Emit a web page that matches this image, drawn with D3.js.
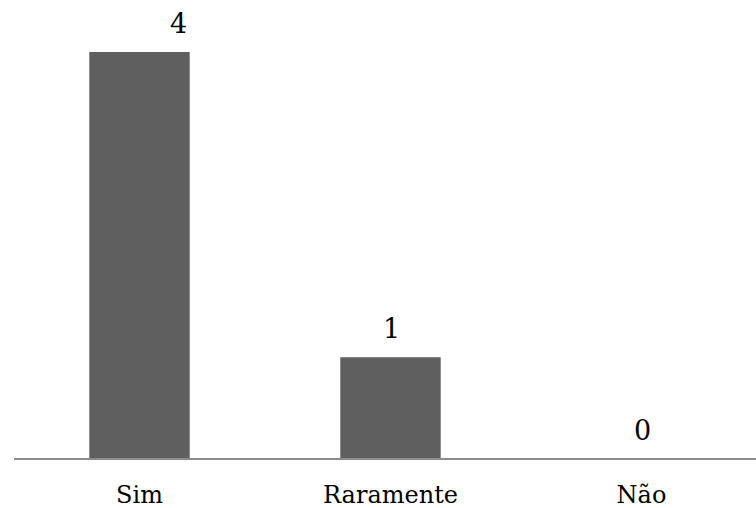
<!DOCTYPE html>
<html>
<head>
<meta charset="utf-8">
<script src="https://cdn.jsdelivr.net/npm/d3@7"></script>
<style>
  html, body { margin: 0; padding: 0; background: #fff; }
  svg { display: block; }
  text { font-family: "DejaVu Serif", serif; fill: #000; }
</style>
</head>
<body>
<svg id="chart" width="756" height="508"></svg>
<script>
const categories = ["Sim", "Raramente", "Não"];
const values = [4, 1, 0];

const width = 756, height = 508;
const svg = d3.select("#chart");

const x = d3.scaleBand()
  .domain(categories)
  .range([14, 767])
  .paddingInner(0.6)
  .paddingOuter(0.3);

const y = d3.scaleLinear()
  .domain([0, 4])
  .range([459, 52]);

svg.selectAll("rect.bar")
  .data(values)
  .enter().append("rect")
  .attr("class", "bar")
  .attr("x", (d, i) => x(categories[i]))
  .attr("y", d => y(d))
  .attr("width", x.bandwidth())
  .attr("height", d => y(0) - y(d))
  .attr("fill", "#5f5f5f");

// baseline
svg.append("line")
  .attr("x1", 14).attr("x2", width)
  .attr("y1", y(0)).attr("y2", y(0))
  .attr("stroke", "#8c8c8c")
  .attr("stroke-width", 2);

// value labels (the tallest one sits off to the right of its bar)
svg.selectAll("text.val")
  .data(values)
  .enter().append("text")
  .attr("class", "val")
  .attr("x", (d, i) => x(categories[i]) + x.bandwidth() / 2 + (i === 0 ? 39 : 1))
  .attr("y", d => y(d) - 19)
  .attr("text-anchor", "middle")
  .attr("font-size", 27)
  .text(d => d);

// category labels
svg.selectAll("text.cat")
  .data(categories)
  .enter().append("text")
  .attr("class", "cat")
  .attr("x", d => x(d) + x.bandwidth() / 2)
  .attr("y", 503)
  .attr("text-anchor", "middle")
  .attr("font-size", 24)
  .text(d => d);
</script>
</body>
</html>
